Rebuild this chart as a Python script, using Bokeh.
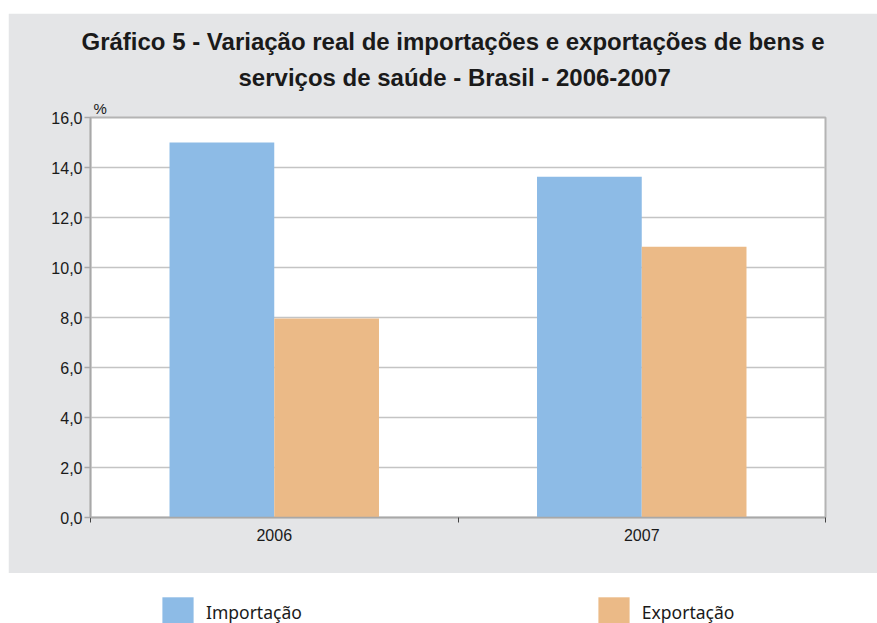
import numpy as np
from bokeh.plotting import figure
from bokeh.models import (ColumnDataSource, Range1d, FixedTicker, Legend,
                          LegendItem, Title)
from bokeh.layouts import column
from bokeh.embed import file_html
from bokeh.resources import INLINE

# ---- data ----
years = ["2006", "2007"]
importacao = [15.0, 13.63]
exportacao = [7.96, 10.83]
series_names = ["Importação", "Exportação"]
y_ticks = [0, 2, 4, 6, 8, 10, 12, 14, 16]
title_lines = ["Gráfico 5 - Variação real de importações e exportações de bens e",
               "serviços de saúde - Brasil - 2006-2007"]
unit_label = "%"

BLUE = "#8dbbe6"
ORANGE = "#ebba87"
GRAY_BG = "#e4e5e7"
GRID = "#c4c4c4"
TXT = "#1a1a1a"

W = 869
bar_w = 0.285
pos = np.arange(len(years)) + 0.5

src = ColumnDataSource(dict(
    x_imp=pos - bar_w / 2, x_exp=pos + bar_w / 2,
    imp=importacao, exp=exportacao))

p = figure(width=W, height=560, output_backend="svg", toolbar_location=None,
           x_range=Range1d(0, len(years)), y_range=Range1d(0, 16),
           min_border_left=82, min_border_right=52, min_border_top=104,
           min_border_bottom=56)
p.margin = (13, 0, 0, 8)
p.background_fill_color = "white"
p.border_fill_color = GRAY_BG
p.outline_line_color = "#b4b4b4"
p.outline_line_width = 2

p.vbar(x="x_imp", top="imp", width=bar_w, source=src, fill_color=BLUE, line_color=None)
p.vbar(x="x_exp", top="exp", width=bar_w, source=src, fill_color=ORANGE, line_color=None)

# y axis
p.yaxis.ticker = FixedTicker(ticks=y_ticks)
p.yaxis.major_label_overrides = {t: f"{t:.1f}".replace(".", ",") for t in y_ticks}
p.yaxis.major_label_text_font = "Liberation Sans"
p.yaxis.major_label_text_font_size = "16px"
p.yaxis.major_label_text_color = TXT
p.yaxis.major_tick_out = 6
p.yaxis.major_tick_in = 0
p.yaxis.major_tick_line_color = "#a8a8a8"
p.yaxis.major_tick_line_width = 1.5
p.yaxis.minor_tick_line_color = None
p.yaxis.axis_line_color = "#a8a8a8"
p.yaxis.axis_line_width = 1.5
p.yaxis.major_label_standoff = 2

# x axis
p.xaxis.ticker = FixedTicker(ticks=list(pos), minor_ticks=list(range(len(years) + 1)))
p.xaxis.major_label_overrides = {float(x): y for x, y in zip(pos, years)}
p.xaxis.major_label_text_font = "Liberation Sans"
p.xaxis.major_label_text_font_size = "16px"
p.xaxis.major_label_text_color = TXT
p.xaxis.major_tick_line_color = None
p.xaxis.major_tick_out = 0
p.xaxis.major_tick_in = 0
p.xaxis.major_label_standoff = 6
p.xaxis.minor_tick_out = 5
p.xaxis.minor_tick_in = 0
p.xaxis.minor_tick_line_color = "#444444"
p.xaxis.minor_tick_line_width = 1
p.xaxis.axis_line_color = "#a8a8a8"
p.xaxis.axis_line_width = 1.5

p.xgrid.visible = False
p.ygrid.grid_line_color = GRID
p.ygrid.grid_line_width = 1.5

# unit label and title lines stacked above the frame (closest first)
p.add_layout(Title(text=unit_label, align="left", offset=3, standoff=1,
                   text_font="Liberation Sans", text_font_size="15px",
                   text_font_style="normal", text_color=TXT), "above")
p.add_layout(Title(text=title_lines[1], align="left", offset=148, standoff=14,
                   text_font="Liberation Sans", text_font_size="24px",
                   text_font_style="bold", text_color=TXT), "above")
p.add_layout(Title(text=title_lines[0], align="left", offset=-9, standoff=0,
                   text_font="Liberation Sans", text_font_size="24px",
                   text_font_style="bold", text_color=TXT), "above")

# legend strip below (its glyph renderers hold no visible data)
p2 = figure(width=W, height=50, output_backend="svg", toolbar_location=None,
            x_range=Range1d(0, 1), y_range=Range1d(0, 1),
            min_border_left=82, min_border_right=52, min_border_top=0,
            min_border_bottom=0)
p2.margin = (0, 0, 0, 8)
p2.xaxis.visible = False
p2.yaxis.visible = False
p2.xgrid.visible = False
p2.ygrid.visible = False
p2.outline_line_color = None
p2.background_fill_color = "white"
p2.border_fill_color = "white"
r1 = p2.vbar(x=[0.5], top=[-2], bottom=[-3], width=0.1, fill_color=BLUE, line_color=None)
r2 = p2.vbar(x=[0.5], top=[-2], bottom=[-3], width=0.1, fill_color=ORANGE, line_color=None)
leg = Legend(items=[LegendItem(label=series_names[0], renderers=[r1]),
                    LegendItem(label=series_names[1], renderers=[r2])],
             orientation="horizontal", location=(68, -8),
             glyph_width=39, glyph_height=38, label_standoff=9,
             spacing=292, padding=0, margin=0,
             border_line_color=None, background_fill_alpha=0,
             label_text_font="Noto Sans", label_text_font_size="17.5px",
             label_text_color=TXT, label_height=38)
p2.add_layout(leg, "center")

layout = column(p, p2, spacing=0)

open("out.html", "w").write(file_html(layout, INLINE))
